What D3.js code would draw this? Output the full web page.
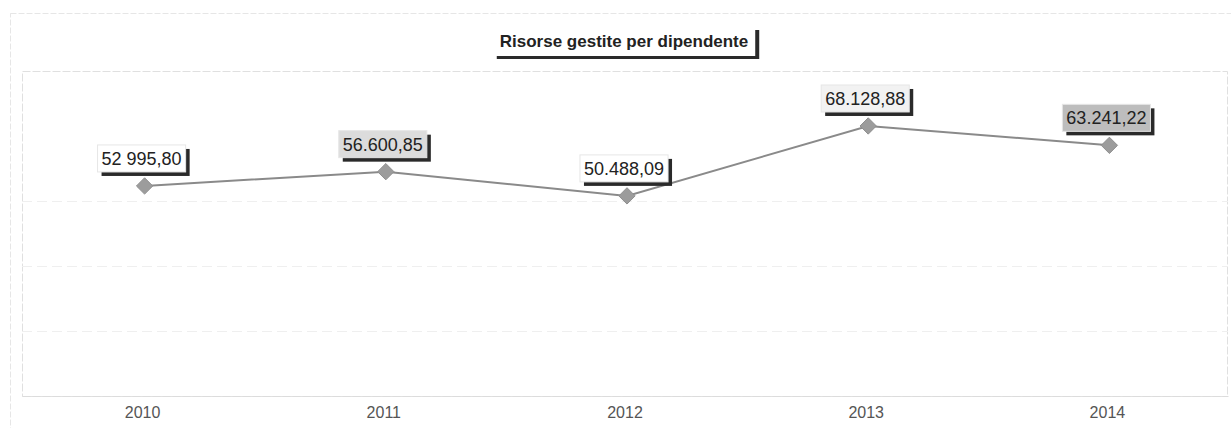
<!DOCTYPE html>
<html><head><meta charset="utf-8">
<script src="https://cdn.jsdelivr.net/npm/d3@7/dist/d3.min.js"></script>
<style>body{margin:0;background:#fff;}svg{display:block;}</style>
</head><body>
<svg id="c" width="1231" height="428"></svg>
<script>
const years = ["2010","2011","2012","2013","2014"];
const values = [52995.80, 56600.85, 50488.09, 68128.88, 63241.22];
const valueLabels = ["52 995,80","56.600,85","50.488,09","68.128,88","63.241,22"];
const gridValues = [16400, 32800, 49200];
const title = "Risorse gestite per dipendente";
const labelFills = ["#ffffff","#dcdcdc","#ffffff","#f2f2f2","#bdbdbd"];

const W = 1231, H = 428;
const m = {left: 22, right: 3, top: 71, bottom: 32};
const svg = d3.select("#c");

// outer frame
svg.append("rect").attr("x",10.5).attr("y",13.5).attr("width",1240).attr("height",430)
  .attr("fill","none").attr("stroke","#e6e6e6").attr("stroke-dasharray","6,2");

const x = d3.scaleBand().domain(years).range([m.left, W - m.right]);
const y = d3.scaleLinear().domain([0, 82000]).range([H - m.bottom, m.top]);

// plot frame
svg.append("rect").attr("x", m.left + 0.5).attr("y", m.top + 0.5)
  .attr("width", W - m.right - m.left - 1).attr("height", H - m.bottom - m.top)
  .attr("fill","none").attr("stroke","#e0e0e0").attr("stroke-dasharray","8,2");

// grid
svg.append("g").selectAll("line").data(gridValues).join("line")
  .attr("x1", m.left).attr("x2", W - m.right)
  .attr("y1", d => Math.round(y(d)) + 0.5).attr("y2", d => Math.round(y(d)) + 0.5)
  .attr("stroke","#efefef").attr("stroke-dasharray","10,5");

// x axis
const xAxis = svg.append("g").attr("transform", `translate(0,${H - m.bottom})`)
  .call(d3.axisBottom(x).tickSize(0).tickPadding(11));
xAxis.select(".domain").attr("stroke","#dcdcdc").attr("stroke-dasharray","8,2");
xAxis.selectAll("text").attr("font-family","Liberation Sans, Arial, sans-serif")
  .attr("font-size", 16).attr("fill","#555");

// line
const cx = d => x(d) + x.bandwidth()/2;
const data = years.map((yr,i) => ({yr, v: values[i], label: valueLabels[i], fill: labelFills[i]}));
svg.append("path").datum(data)
  .attr("d", d3.line().x(d => cx(d.yr) + 2).y(d => y(d.v)))
  .attr("fill","none").attr("stroke","#8a8a8a").attr("stroke-width",2);

// markers
svg.append("g").selectAll("path").data(data).join("path")
  .attr("d", d3.symbol().type(d3.symbolDiamond2).size(170))
  .attr("transform", d => `translate(${cx(d.yr) + 2},${y(d.v)})`)
  .attr("fill","#9c9c9c").attr("stroke","#8f8f8f").attr("stroke-width",1);

// value labels
const lg = svg.append("g").selectAll("g").data(data).join("g");
lg.each(function(d){
  const g = d3.select(this);
  const t = g.append("text").text(d.label)
    .attr("font-family","Liberation Sans, Arial, sans-serif").attr("font-size",18)
    .attr("fill","#222").attr("text-anchor","middle");
  const w = t.node().getComputedTextLength() + 8;
  const h = 27;
  const px = cx(d.yr) - 1, py = y(d.v);
  const bx = px - w/2, by = py - 14 - h;
  g.insert("rect","text").attr("x", bx + 4).attr("y", by + 4).attr("width", w).attr("height", h).attr("fill","#2a2a2a");
  g.insert("rect","text").attr("x", bx).attr("y", by).attr("width", w).attr("height", h)
    .attr("fill", d.fill).attr("stroke","#e6e6e6");
  t.attr("x", px).attr("y", by + 20);
});

// title
const tg = svg.append("g");
const tt = tg.append("text").text(title).attr("font-family","Liberation Sans, Arial, sans-serif")
  .attr("font-size",17).attr("font-weight","bold").attr("fill","#222").attr("text-anchor","middle");
const tw = tt.node().getComputedTextLength() + 14;
const tcx = 624, ty = 27, th = 29;
tg.insert("rect","text").attr("x", tcx - tw/2 + 4).attr("y", ty + 3).attr("width", tw).attr("height", th).attr("fill","#2a2a2a");
tg.insert("rect","text").attr("x", tcx - tw/2).attr("y", ty).attr("width", tw).attr("height", th).attr("fill","#fff");
tt.attr("x", tcx).attr("y", ty + 20);
</script>
</body></html>
